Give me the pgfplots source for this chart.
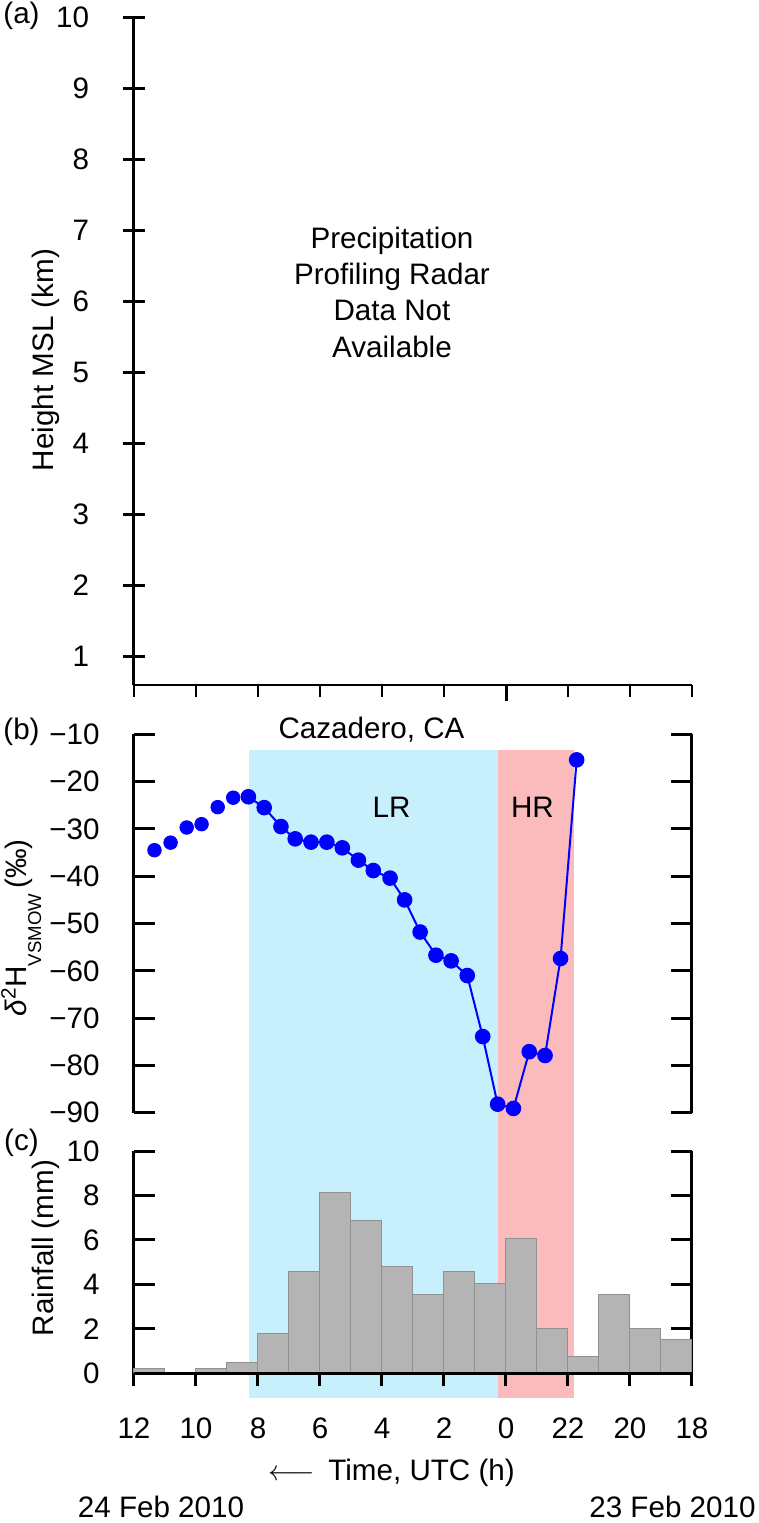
\documentclass[border=0pt]{standalone}
\usepackage{fontspec}
\setmainfont{Liberation Sans}
\usepackage{pgfplots}
\pgfplotsset{compat=1.18}
\definecolor{lrblue}{RGB}{199,240,252}
\definecolor{hrpink}{RGB}{251,187,189}
\definecolor{bargray}{RGB}{180,180,180}
\definecolor{baredge}{RGB}{145,145,145}
\newcommand{\fs}{\fontsize{14.8}{18.15}\selectfont}
\pgfplotsset{
  panel/.style={
    scale only axis, width=279pt, xmin=0, xmax=18, anchor=south west,
    tick align=inside, major tick length=10.5pt,
    tick style={line width=1.5pt, black},
    yticklabel style={font=\fs, anchor=east, inner sep=0pt, xshift=-17pt},
    every axis y label/.style={font=\fs, rotate=90, anchor=base},
    clip=false,
  },
}
\pgfplotstableread{
x y
0.66 -34.5
1.18 -32.9
1.70 -29.7
2.18 -29.0
2.70 -25.4
3.20 -23.4
}\isoearly
\pgfplotstableread{
x y
3.69 -23.2
4.20 -25.5
4.74 -29.5
5.20 -32.1
5.71 -32.8
6.22 -32.8
6.72 -34.0
7.24 -36.6
7.72 -38.8
8.26 -40.4
8.73 -45.0
9.23 -51.8
9.74 -56.7
10.23 -57.9
10.75 -61.0
11.25 -73.9
11.73 -88.2
12.24 -89.1
12.75 -77.1
13.26 -77.9
13.76 -57.4
14.28 -15.4
}\isolate
\pgfplotstableread{
x y
0 0.23
1 0.0
2 0.2
3 0.48
4 1.77
5 4.59
6 8.15
7 6.87
8 4.81
9 3.55
10 4.57
11 4.06
12 6.07
13 2.01
14 0.75
15 3.53
16 2.01
17 1.5
18 1.5
}\rain
\begin{document}
\begin{tikzpicture}
\useasboundingbox (0,0) rectangle (379.5pt,-761.5pt);
% background shading spanning panels (b) and (c)
\begin{axis}[scale only axis, width=279pt, height=324.15pt, at={(67pt,-699.15pt)},
  anchor=south west, xmin=0, xmax=18, ymin=0, ymax=1, hide axis]
\addplot[fill=lrblue, draw=none] coordinates {(3.72,1) (11.75,1)} \closedcycle;
\addplot[fill=hrpink, draw=none] coordinates {(11.75,1) (14.19,1)} \closedcycle;
\end{axis}
% panel (a): y axis
\begin{axis}[panel, at={(67pt,-342.5pt)}, height=333.85pt, ymin=0.6, ymax=10,
  axis x line=none, axis y line=left, axis line style={-, line width=1.5pt},
  xtick=\empty, ytick={1,2,3,4,5,6,7,8,9,10},
  yticklabels={1,2,3,4,5,6,7,8,9,10},
  ylabel={Height MSL (km)},
  ylabel style={at={(axis description cs:-0.14516,0.4867)}}]
\end{axis}
% panel (a): x axis (ticks only, no labels)
\begin{axis}[scale only axis, width=279pt, height=333.85pt, at={(67pt,-342.5pt)},
  anchor=south west, xmin=0, xmax=18, ymin=0.6, ymax=10,
  axis y line=none, axis x line=bottom, axis line style={-, line width=0.6pt},
  tick align=outside, major tick length=6pt, tick style={line width=0.6pt, black},
  xtick={0,2,4,6,8,10,14,16,18}, xticklabel={\relax},
  extra x ticks={12}, extra x tick labels={},
  extra x tick style={major tick length=8pt, tick style={line width=1.5pt}}]
\end{axis}
% panel (b)
\begin{axis}[panel, at={(67pt,-556.35pt)}, height=189.2pt, ymin=-90, ymax=-10,
  separate axis lines, x axis line style={draw=none}, y axis line style={line width=1.5pt},
  xtick=\empty, ytick={-90,-80,-70,-60,-50,-40,-30,-20,-10},
  yticklabels={−90,−80,−70,−60,−50,−40,−30,−20,−10},
  yticklabel pos=left, ytick pos=both,
  ylabel={\textit{δ}\textsuperscript{2}H\raisebox{-7.5pt}{\fontsize{9.3}{10}\selectfont VSMOW}\,(‰)},
  ylabel style={at={(axis description cs:-0.1935,0.488)}}]
\addplot[only marks, mark=*, mark size=3.4pt, color=blue, mark options={fill=blue, draw=blue}] table[x=x,y=y] {\isoearly};
\addplot[blue, line width=1pt, mark=*, mark size=3.4pt, mark options={fill=blue, draw=blue}] table[x=x,y=y] {\isolate};
\end{axis}
% panel (c)
\begin{axis}[panel, at={(67pt,-686.65pt)}, height=111.15pt, ymin=0, ymax=10,
  separate axis lines, x axis line style={draw=none}, y axis line style={line width=1.5pt},
  xtick=\empty, ytick={0,2,4,6,8,10}, yticklabels={0,2,4,6,8,10},
  yticklabel pos=left, ytick pos=both,
  ylabel={Rainfall (mm)},
  ylabel style={at={(axis description cs:-0.14516,0.5636)}}]
\addplot[ybar interval, fill=bargray, draw=baredge, line width=0.5pt] table[x=x,y=y] {\rain};
\end{axis}
% panel (c): x axis
\begin{axis}[scale only axis, width=279pt, height=111.15pt, at={(67pt,-686.65pt)},
  anchor=south west, xmin=0, xmax=18, ymin=0, ymax=10,
  axis y line=none, axis x line=bottom, axis line style={-, line width=1.5pt},
  tick align=outside, major tick length=6.5pt, tick style={line width=1.5pt, black},
  xtick={0,2,4,6,8,10,12,14,16,18},
  xticklabels={12,10,8,6,4,2,0,22,20,18},
  xticklabel style={font=\fs, anchor=north, inner sep=0pt, yshift=-15.5pt},
  xlabel={$\longleftarrow$\hspace{7pt}Time, UTC (h)},
  every axis x label/.style={font=\fs, at={(axis description cs:0.4613,0)}, anchor=base, yshift=-53.5pt}]
\end{axis}
% text labels
\node[font=\fs, anchor=center] at (10.75pt,-8pt) {(a)};
\node[font=\fs, anchor=center] at (10.75pt,-365.75pt) {(b)};
\node[font=\fs, anchor=center] at (10.75pt,-571.5pt) {(c)};
\node[font=\fs, anchor=north, align=center, inner sep=0pt] at (196pt,-113.2pt)
  {Precipitation\\Profiling Radar\\Data Not\\Available};
\node[font=\fs, anchor=base] at (185.75pt,-369pt) {Cazadero, CA};
\node[font=\fs, anchor=base] at (195.75pt,-408.5pt) {LR};
\node[font=\fs, anchor=base] at (266.25pt,-408.5pt) {HR};
\node[font=\fs, anchor=base west, inner sep=0pt] at (38.75pt,-758.5pt) {24 Feb 2010};
\node[font=\fs, anchor=base east, inner sep=0pt] at (378pt,-758.5pt) {23 Feb 2010};
\end{tikzpicture}
\end{document}
